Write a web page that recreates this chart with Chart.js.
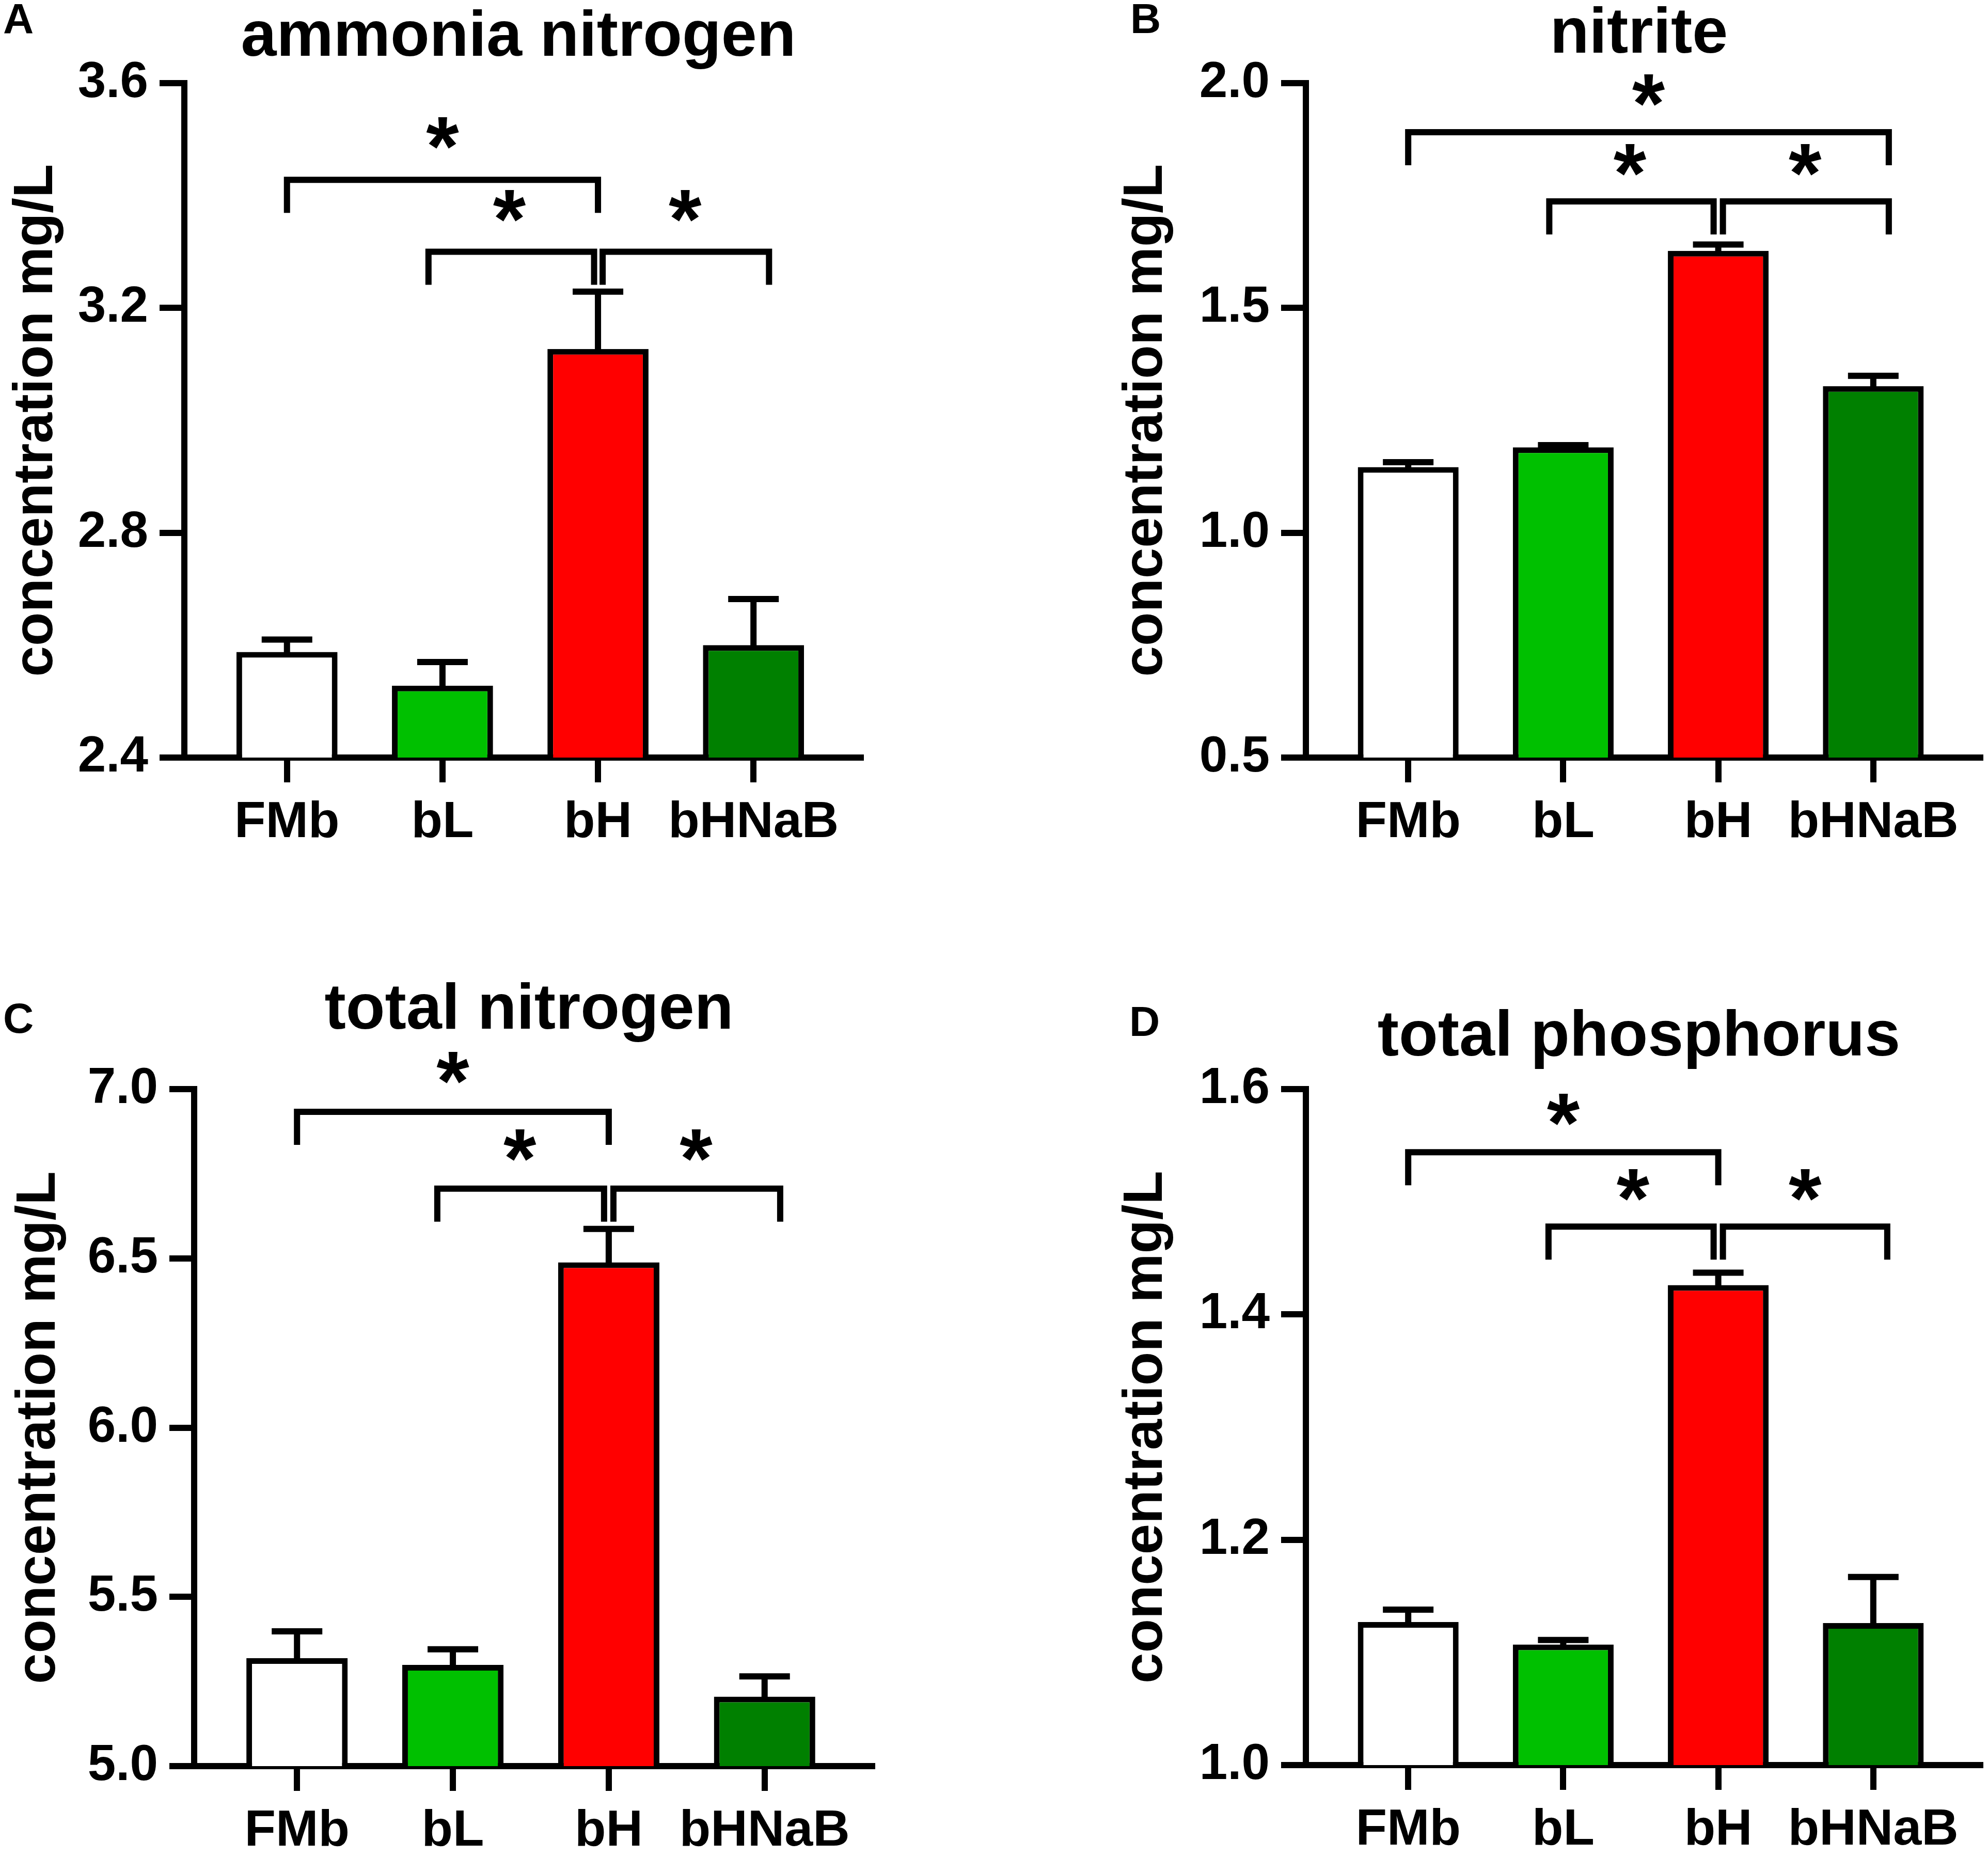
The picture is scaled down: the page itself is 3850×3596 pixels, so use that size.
<!DOCTYPE html>
<html>
<head>
<meta charset="utf-8">
<title>Water quality</title>
<script src="https://cdn.jsdelivr.net/npm/chart.js@4.4.1/dist/chart.umd.min.js"></script>
<style>
  html, body { margin: 0; padding: 0; background: #ffffff; }
  #figure { position: relative; width: 3850px; height: 3596px; }
  #figure canvas { position: absolute; }
</style>
</head>
<body>
<div id="figure">
  <canvas id="panelA" width="1925" height="1798" style="left:0px;top:0px"></canvas>
  <canvas id="panelB" width="1925" height="1798" style="left:1925px;top:0px"></canvas>
  <canvas id="panelC" width="1925" height="1798" style="left:0px;top:1798px"></canvas>
  <canvas id="panelD" width="1925" height="1798" style="left:1925px;top:1798px"></canvas>
</div>
<script>
var groups = ['FMb', 'bL', 'bH', 'bHNaB'];

// A. ammonia nitrogen
var ammoniaMean = [2.588, 2.528, 3.127, 2.600];
var ammoniaSem = [0.022, 0.042, 0.102, 0.082];
var ammoniaTicks = [2.4, 2.8, 3.2, 3.6];
var ammoniaBrackets = [[0, 2, 3.428], [0.91, 1.975, 3.300], [2.03, 3.1, 3.300]];
var ammoniaStars = [[1.0, 3.511], [1.43, 3.382], [2.56, 3.382]];

// B. nitrite
var nitriteMean = [1.146, 1.190, 1.627, 1.326];
var nitriteSem = [0.011, 0.005, 0.014, 0.023];
var nitriteTicks = [0.5, 1.0, 1.5, 2.0];
var nitriteBrackets = [[0, 3.1, 1.891], [0.91, 1.97, 1.737], [2.03, 3.1, 1.737]];
var nitriteStars = [[1.55, 1.985], [1.43, 1.83], [2.56, 1.83]];

// C. total nitrogen
var totalNMean = [5.319, 5.299, 6.488, 5.205];
var totalNSem = [0.079, 0.046, 0.099, 0.060];
var totalNTicks = [5.0, 5.5, 6.0, 6.5, 7.0];
var totalNBrackets = [[0, 2, 6.933], [0.9, 1.97, 6.706], [2.03, 3.1, 6.706]];
var totalNStars = [[1.0, 7.063], [1.43, 6.834], [2.56, 6.834]];

// D. total phosphorus
var totalPMean = [1.127, 1.107, 1.426, 1.126];
var totalPSem = [0.011, 0.004, 0.011, 0.041];
var totalPTicks = [1.0, 1.2, 1.4, 1.6];
var totalPBrackets = [[0, 2, 1.544], [0.905, 1.97, 1.478], [2.03, 3.09, 1.478]];
var totalPStars = [[1.0, 1.582], [1.45, 1.515], [2.56, 1.515]];

var FONT = "'Liberation Sans', Arial, sans-serif";
var barFill = ['#ffffff', '#00c000', '#ff0000', '#008000'];
var LINE = 12;

Chart.defaults.font.family = FONT;
Chart.defaults.color = '#000000';

function drawStar(ctx, x, y) {
    ctx.font = 'bold 100px ' + FONT;
    var m = ctx.measureText('*');
    var size = 100 * 62 / (m.actualBoundingBoxAscent + m.actualBoundingBoxDescent);
    ctx.font = 'bold ' + size + 'px ' + FONT;
    m = ctx.measureText('*');
    ctx.textAlign = 'center';
    ctx.textBaseline = 'alphabetic';
    ctx.fillText('*', x, y + (m.actualBoundingBoxAscent - m.actualBoundingBoxDescent) / 2);
}

function drawPanel(canvasId, p) {
    var canvas = document.getElementById(canvasId);
    var W = canvas.width, H = canvas.height;
    var a = p.area;
    var padLeft = p.yTitleX - 64;

    // error bars, brackets, asterisks, titles
    var annotations = {
        id: 'annotations' + p.letter,
        afterDatasetsDraw: function(chart) {
            var ctx = chart.ctx;
            var xs = chart.scales.x, ys = chart.scales.y;
            ctx.save();
            ctx.strokeStyle = '#000000';
            ctx.fillStyle = '#000000';
            ctx.lineWidth = LINE;
            ctx.lineCap = 'butt';
            ctx.lineJoin = 'miter';

            p.mean.forEach(function(m, i) {
                var px = xs.getPixelForValue(i);
                var y0 = ys.getPixelForValue(m) + 5;
                var y1 = ys.getPixelForValue(m + p.sem[i]);
                ctx.beginPath();
                ctx.moveTo(px, y0);
                ctx.lineTo(px, y1);
                ctx.moveTo(px - 49, y1);
                ctx.lineTo(px + 49, y1);
                ctx.stroke();
            });

            p.brackets.forEach(function(b) {
                var x1 = xs.getPixelForValue(b[0]);
                var x2 = xs.getPixelForValue(b[1]);
                var yb = ys.getPixelForValue(b[2]);
                ctx.beginPath();
                ctx.moveTo(x1, yb + 64);
                ctx.lineTo(x1, yb);
                ctx.lineTo(x2, yb);
                ctx.lineTo(x2, yb + 64);
                ctx.stroke();
            });

            p.stars.forEach(function(s) {
                drawStar(ctx, xs.getPixelForValue(s[0]), ys.getPixelForValue(s[1]));
            });

            ctx.textAlign = 'center';
            ctx.textBaseline = 'alphabetic';
            ctx.font = 'bold 124px ' + FONT;
            ctx.fillText(p.title, (a[0] + a[2]) / 2 - 8, p.titleY);

            ctx.textAlign = 'left';
            ctx.font = 'bold 82px ' + FONT;
            ctx.fillText(p.letter, p.letterX, p.letterY);
            ctx.restore();
        }
    };

    new Chart(canvas, {
        type: 'bar',
        data: {
            datasets: [{
                data: p.mean.map(function(v, i) { return { x: i, y: v }; }),
                backgroundColor: barFill,
                borderColor: '#000000',
                borderWidth: 11,
                borderSkipped: false,
                categoryPercentage: 1,
                barPercentage: 0.65
            }]
        },
        options: {
            responsive: false,
            animation: false,
            devicePixelRatio: 1,
            layout: {
                padding: { left: padLeft, top: a[1], right: W - a[2], bottom: 0 }
            },
            plugins: {
                legend: { display: false },
                tooltip: { enabled: false }
            },
            scales: {
                x: {
                    type: 'linear',
                    offset: false,
                    min: -0.66,
                    max: 3.69,
                    afterFit: function(s) { s.height = H - a[3]; },
                    afterBuildTicks: function(s) {
                        s.ticks = groups.map(function(g, i) { return { value: i }; });
                    },
                    grid: {
                        offset: false,
                        drawOnChartArea: false,
                        drawTicks: true,
                        tickLength: 48,
                        lineWidth: LINE,
                        color: '#000000'
                    },
                    border: { display: true, width: LINE, color: '#000000' },
                    ticks: {
                        callback: function(v) { return groups[v]; },
                        font: { size: 99, weight: 'bold' },
                        color: '#000000',
                        padding: 19,
                        maxRotation: 0,
                        autoSkip: false
                    }
                },
                y: {
                    type: 'linear',
                    min: p.ticks[0],
                    max: p.ticks[p.ticks.length - 1],
                    afterFit: function(s) { s.width = a[0] - padLeft; },
                    afterBuildTicks: function(s) {
                        s.ticks = p.ticks.map(function(v) { return { value: v }; });
                    },
                    grid: {
                        drawOnChartArea: false,
                        drawTicks: true,
                        tickLength: 48,
                        lineWidth: LINE,
                        color: '#000000'
                    },
                    border: { display: true, width: LINE, color: '#000000' },
                    ticks: {
                        callback: function(v) { return v.toFixed(1); },
                        font: { size: 98, weight: 'bold' },
                        color: '#000000',
                        padding: 22
                    },
                    title: {
                        display: true,
                        text: 'concentration mg/L',
                        font: { size: 107, weight: 'bold' },
                        color: '#000000',
                        padding: 0
                    }
                }
            }
        },
        plugins: [annotations]
    });
}

// 1. ammonia nitrogen
drawPanel('panelA', {
    letter: 'A', title: 'ammonia nitrogen',
    mean: ammoniaMean, sem: ammoniaSem, ticks: ammoniaTicks,
    brackets: ammoniaBrackets, stars: ammoniaStars,
    area: [357, 161, 1667, 1467], yTitleX: 71, titleY: 108, letterX: 6, letterY: 64
});

// 2. nitrite
drawPanel('panelB', {
    letter: 'B', title: 'nitrite',
    mean: nitriteMean, sem: nitriteSem, ticks: nitriteTicks,
    brackets: nitriteBrackets, stars: nitriteStars,
    area: [604, 161, 1910, 1467], yTitleX: 295, titleY: 102, letterX: 264, letterY: 64
});

// 3. total nitrogen
drawPanel('panelC', {
    letter: 'C', title: 'total nitrogen',
    mean: totalNMean, sem: totalNSem, ticks: totalNTicks,
    brackets: totalNBrackets, stars: totalNStars,
    area: [376, 311, 1689, 1622], yTitleX: 76, titleY: 194, letterX: 6, letterY: 202
});

// 4. total phosphorus
drawPanel('panelD', {
    letter: 'D', title: 'total phosphorus',
    mean: totalPMean, sem: totalPSem, ticks: totalPTicks,
    brackets: totalPBrackets, stars: totalPStars,
    area: [604, 311, 1910, 1620], yTitleX: 295, titleY: 246, letterX: 262, letterY: 208
});
</script>
</body>
</html>
